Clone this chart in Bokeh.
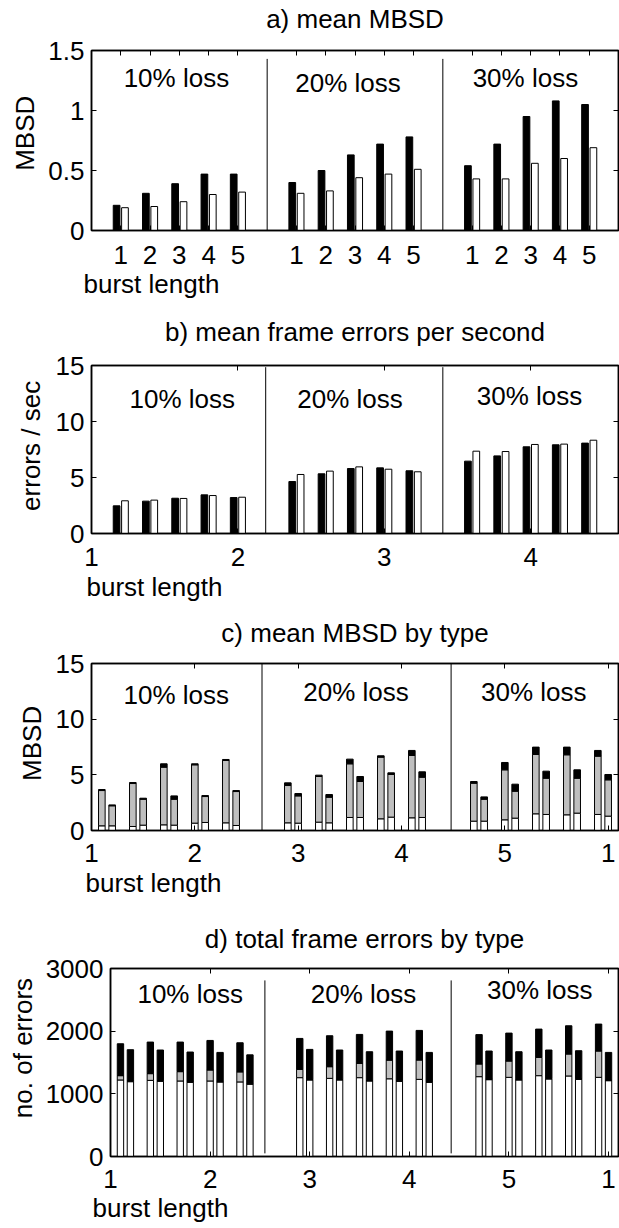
import numpy as np
from bokeh.plotting import figure
from bokeh.models import LinearAxis, FixedTicker, Label, Range1d, Title
from bokeh.embed import file_html
from bokeh.resources import INLINE

FONT = "Liberation Sans"
FS = "26px"
GRAY = "#bfbfbf"
NB = "\u00a0"

# ---------------- data ----------------
burst = [1, 2, 3, 4, 5]
loss_labels = ["10% loss", "20% loss", "30% loss"]

# a) mean MBSD (two series per burst length, 10/20/30% loss)
a_black = [0.21, 0.31, 0.39, 0.47, 0.47, 0.40, 0.50, 0.63, 0.72, 0.78, 0.54, 0.72, 0.95, 1.08, 1.05]
a_white = [0.19, 0.20, 0.24, 0.30, 0.32, 0.31, 0.33, 0.44, 0.47, 0.51, 0.43, 0.43, 0.56, 0.60, 0.69]

# b) mean frame errors per second
b_black = [2.47, 2.89, 3.15, 3.45, 3.21, 4.64, 5.33, 5.80, 5.86, 5.60, 6.46, 6.93, 7.74, 7.92, 8.07]
b_white = [2.92, 2.98, 3.13, 3.39, 3.24, 5.27, 5.57, 5.95, 5.74, 5.51, 7.35, 7.32, 7.95, 7.98, 8.33]

# c) mean MBSD by type (stacked: white / gray / black), two bars per burst length
c_white = [0.42, 0.42, 0.36, 0.48, 0.51, 0.48, 0.66, 0.72, 0.69, 0.45,
           0.69, 0.66, 0.75, 0.69, 1.17, 1.17, 1.05, 1.20, 1.14, 1.17,
           0.84, 0.84, 0.96, 1.11, 1.50, 1.44, 1.41, 1.56, 1.44, 1.29]
c_gray = [3.17, 1.80, 3.86, 2.33, 5.18, 2.33, 5.24, 2.33, 5.60, 3.05,
          3.35, 2.45, 4.10, 2.30, 4.82, 3.23, 5.54, 3.83, 5.60, 3.62,
          3.41, 1.97, 4.49, 2.42, 5.33, 3.26, 5.39, 3.14, 5.24, 3.26]
c_black = [0.09, 0.08, 0.09, 0.09, 0.30, 0.30, 0.09, 0.09, 0.09, 0.09,
           0.24, 0.21, 0.12, 0.24, 0.42, 0.45, 0.12, 0.15, 0.45, 0.48,
           0.15, 0.21, 0.66, 0.63, 0.66, 0.63, 0.69, 0.75, 0.51, 0.48]

# d) total frame errors by type
d_white = [1221, 1194, 1215, 1200, 1205, 1184, 1205, 1189, 1190, 1155,
           1258, 1221, 1247, 1221, 1258, 1205, 1240, 1200, 1231, 1184,
           1274, 1226, 1263, 1221, 1290, 1237, 1285, 1231, 1263, 1210]
d_gray = [69, 11, 107, 10, 149, 6, 175, 6, 160, 5,
          133, 7, 186, 7, 228, 7, 297, 7, 308, 6,
          202, 7, 260, 7, 292, 7, 350, 7, 420, 7]
d_black = [509, 499, 504, 489, 472, 477, 472, 466, 465, 462,
           493, 481, 494, 471, 462, 460, 464, 476, 473, 471,
           469, 450, 446, 444, 451, 455, 451, 450, 430, 444]

# tick labels
a_xticks = [b + 6 * k for k in range(3) for b in burst]
a_xlabels = [str(b) for k in range(3) for b in burst]
b_xticks = [0, 5, 10, 15]
b_xlabels = ["1", "2", "3", "4"]
cd_xticks = [0, 10, 20, 30, 40, 50]
cd_xlabels = ["1", "2", "3", "4", "5", "1"]

a_yticks, a_ylabels = [0, 0.5, 1, 1.5], ["0", "0.5", "1", "1.5"]
bc_yticks, bc_ylabels = [0, 5, 10, 15], ["0", "5", "10", "15"]
d_yticks, d_ylabels = [0, 1000, 2000, 3000], ["0", "1000", "2000", "3000"]

# separators between loss groups
a_div = [6, 12]
b_div = [5.95, 12]
c_div = [16.5, 34.8]
d_div = [15.5, 34.2]

W = 619


def make_fig(height, top, fh, left, xr, yr):
    p = figure(width=W, height=height, min_border_left=left, min_border_right=W - 618,
               min_border_top=top, min_border_bottom=height - top - fh,
               x_range=Range1d(*xr), y_range=Range1d(*yr),
               x_axis_type=None, y_axis_type=None, title=None,
               output_backend="svg", toolbar_location=None)
    p.outline_line_color = "black"
    p.outline_line_width = 1.5
    p.background_fill_color = "white"
    p.border_fill_color = "white"
    return p


def add_axes(p, xticks, xlabels, yticks, ylabels, ylab, ylab_standoff, xstand,
             title, title_standoff):
    common = dict(axis_line_color="black", axis_line_width=1.5, major_tick_in=5,
                  major_tick_out=0, minor_tick_line_color=None,
                  major_tick_line_color="black", major_tick_line_width=1)
    hidden = dict(major_label_text_font_size="1px", major_label_text_alpha=0,
                  major_label_standoff=0)
    lab_style = dict(axis_label_text_font=FONT, axis_label_text_font_size=FS,
                     axis_label_text_font_style="normal", axis_label_text_color="black")
    xb = LinearAxis(ticker=FixedTicker(ticks=xticks, minor_ticks=[]),
                    major_label_overrides={t: l for t, l in zip(xticks, xlabels)},
                    major_label_standoff=xstand, major_label_text_font=FONT,
                    major_label_text_font_size=FS, major_label_text_color="black", **common)
    p.add_layout(xb, "below")
    xt = LinearAxis(ticker=FixedTicker(ticks=xticks, minor_ticks=[]),
                    axis_label=title, axis_label_standoff=title_standoff,
                    **lab_style, **hidden, **common)
    p.add_layout(xt, "above")
    yl = LinearAxis(ticker=FixedTicker(ticks=yticks, minor_ticks=[]),
                    major_label_overrides={t: l for t, l in zip(yticks, ylabels)},
                    major_label_standoff=7, major_label_text_font=FONT,
                    major_label_text_font_size=FS, major_label_text_color="black",
                    axis_label=ylab, axis_label_standoff=ylab_standoff,
                    **lab_style, **common)
    p.add_layout(yl, "left")
    yr = LinearAxis(ticker=FixedTicker(ticks=yticks, minor_ticks=[]), **hidden, **common)
    p.add_layout(yr, "right")


def xlabel(p, xlab_offset, xlab_standoff):
    p.add_layout(Title(text="burst length", align="left", offset=xlab_offset,
                       standoff=xlab_standoff, text_font=FONT, text_font_size=FS,
                       text_font_style="normal", text_color="black"), "below")


def lab(p, x, y, text):
    p.add_layout(Label(x=x, y=y, text=text, text_font=FONT, text_font_size=FS,
                       text_align="center", text_baseline="middle", text_color="black"))


def grouped(p, xs, s1, s2):
    off, bw = 0.143, 0.229
    p.vbar(x=[x - off for x in xs], top=s1, width=bw, fill_color="black", line_color="black", line_width=1)
    p.vbar(x=[x + off for x in xs], top=s2, width=bw, fill_color="white", line_color="black", line_width=1)


def stacked(p, xs, w, g, b):
    w = np.array(w, float); g = np.array(g, float); b = np.array(b, float)
    bw = 0.64
    p.vbar(x=xs, bottom=0, top=w, width=bw, fill_color="white", line_color="black", line_width=1)
    p.vbar(x=xs, bottom=w, top=w + g, width=bw, fill_color=GRAY, line_color="black", line_width=1)
    p.vbar(x=xs, bottom=w + g, top=w + g + b, width=bw, fill_color="black", line_color="black", line_width=1)


xs_ab = [b + 6 * k for k in range(3) for b in burst]
xs_cd = [3 * (b - 1) + 1 + j + 18 * k for k in range(3) for b in burst for j in (0, 1)]

# ---------------- panel a ----------------  (page 0 -> 310, frame 50..230)
pa = make_fig(310, 50, 180, 91, (0, 18), (0, 1.5))
add_axes(pa, a_xticks, a_xlabels, a_yticks, a_ylabels, NB * 2 + "MBSD", 5, 15,
         "a) mean MBSD", 17)
xlabel(pa, -8, 1)
pa.segment(x0=a_div, y0=[0, 0], x1=a_div, y1=[1.43, 1.43], line_color="black", line_width=1)
grouped(pa, xs_ab, a_black, a_white)
for t, x, y in zip(loss_labels, [2.9, 8.76, 14.82], [1.27, 1.23, 1.27]):
    lab(pa, x, y, t)

# ---------------- panel b ----------------  (page 310 -> 613, frame 365..533)
pb = make_fig(303, 55, 168, 91, (0, 18), (0, 15))
add_axes(pb, b_xticks, b_xlabels, bc_yticks, bc_ylabels, NB + "errors / sec", 7, 14,
         "b) mean frame errors per second", 19)
xlabel(pb, -5, 2)
pb.segment(x0=b_div, y0=[-0.6, -0.6], x1=b_div, y1=[14.85, 14.85], line_color="black", line_width=1)
grouped(pb, xs_ab, b_black, b_white)
for t, x, y in zip(loss_labels, [3.1, 8.83, 14.96], [12.05, 12.05, 12.3]):
    lab(pb, x, y, t)

# ---------------- panel c ----------------  (page 613 -> 910, frame 663..830)
pc = make_fig(297, 50, 167, 91, (0, 51), (0, 15))
add_axes(pc, cd_xticks, cd_xlabels, bc_yticks, bc_ylabels, NB + "MBSD", 6, 13,
         "c) mean MBSD by type", 16)
xlabel(pc, -6, 3)
pc.segment(x0=c_div, y0=[-1.4, -1.4], x1=c_div, y1=[15, 15], line_color="black", line_width=1)
stacked(pc, xs_cd, c_white, c_gray, c_black)
for t, x, y in zip(loss_labels, [8.2, 25.6, 42.8], [12.2, 12.4, 12.4]):
    lab(pc, x, y, t)

# ---------------- panel d ----------------  (page 910 -> 1228, frame 968..1156)
pd_ = make_fig(318, 58, 188, 110, (0, 51), (0, 3000))
add_axes(pd_, cd_xticks, cd_xlabels, d_yticks, d_ylabels, NB * 4 + "no. of errors", 5, 13,
         "d) total frame errors by type", 15)
xlabel(pd_, -18, 0)
pd_.segment(x0=d_div, y0=[50, 50], x1=d_div, y1=[2810, 2810], line_color="black", line_width=1)
stacked(pd_, xs_cd, d_white, d_gray, d_black)
for t, x, y in zip(loss_labels, [8.0, 25.4, 43.1], [2600, 2600, 2650]):
    lab(pd_, x, y, t)

open("out.html", "w").write(file_html([pa, pb, pc, pd_], INLINE))
